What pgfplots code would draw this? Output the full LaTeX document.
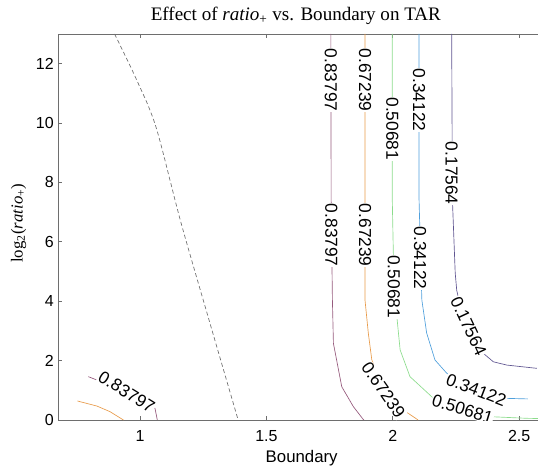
\documentclass[border=0pt]{standalone}
\usepackage{fontspec}
\setmainfont{Liberation Sans}
\newfontfamily\seriffont{Liberation Serif}
\usepackage{pgfplots}
\pgfplotsset{compat=1.18}
\definecolor{cA}{RGB}{150,90,125}
\definecolor{cB}{RGB}{232,155,75}
\definecolor{cC}{RGB}{140,220,140}
\definecolor{cD}{RGB}{80,160,220}
\definecolor{cE}{RGB}{95,85,145}
\definecolor{axgray}{RGB}{110,110,110}
\tikzset{clab/.style={fill=white, inner sep=0.6pt, font=\fontsize{13}{14}\selectfont}}
\begin{document}
\begin{tikzpicture}
\begin{axis}[
  at={(43.5pt,35.25pt)}, anchor=south west,
  scale only axis, width=364.8pt, height=289.5pt,
  xmin=0.675, xmax=2.6, ymin=0, ymax=13,
  xtick={1,1.5,2,2.5}, ytick={0,2,4,6,8,10,12},
  tick align=inside, major tick length=3pt,
  axis line style={axgray, line width=0.6pt},
  tick style={axgray, line width=0.6pt},
  /pgf/number format/assume math mode=true,
  ticklabel style={font=\fontsize{12}{14}\selectfont},
  xticklabel style={anchor=base, yshift=-16.3pt},
  yticklabel style={inner sep=1pt, xshift=-2pt},
  every axis title shift=0pt,
  xlabel={Boundary},
  xlabel style={font=\fontsize{12.6}{14}\selectfont, at={(rel axis cs:0.501,-0.1095)}, anchor=base},
  ylabel={\seriffont log\textsubscript{2}(\textit{ratio}\textsubscript{+})},
  ylabel style={font=\fontsize{12.6}{14}\selectfont, at={(rel axis cs:-0.0811,0.51)}, anchor=center},
  title={\seriffont Effect of \textit{ratio}\textsubscript{+} vs. Boundary on TAR},
  title style={font=\fontsize{14.3}{16}\selectfont, at={(rel axis cs:0.489,1.0345)}, anchor=base},
]
% dashed line
\addplot[axgray, line width=0.5pt, dash pattern=on 3pt off 2pt, smooth, tension=0.5] coordinates {
 (0.899,13) (0.987,11.44) (1.063,9.86) (1.16,6.7) (1.273,3.36) (1.388,0)};
% 0.83797
\addplot[cA, line width=0.5pt] coordinates {
 (1.755,13) (1.756,7.4) (1.761,4.04) (1.765,2.58) (1.798,1.12) (1.844,0.45) (1.882,0.03) (1.886,0)};
\addplot[cA, line width=0.5pt] coordinates {
 (0.795,1.46) (0.947,0.95) (1.02,0.62) (1.059,0.39) (1.068,0)};
% 0.67239
\addplot[cB, line width=0.5pt] coordinates {
 (1.890,13) (1.890,4.04) (1.903,2.93) (1.917,2.02) (1.963,1.01) (2.041,0.34) (2.095,0.03) (2.100,0)};
\addplot[cB, line width=0.5pt] coordinates {
 (0.752,0.64) (0.829,0.47) (0.881,0.28) (0.934,0)};
% 0.50681
\addplot[cC, line width=0.5pt] coordinates {
 (1.998,13) (1.998,7.4) (2.005,4.37) (2.016,3.48) (2.029,2.36) (2.068,1.46) (2.161,0.73) (2.276,0.36) (2.392,0.11) (2.530,0.057) (2.575,0.05)};
% 0.34122
\addplot[cD, line width=0.5pt] coordinates {
 (2.104,13) (2.104,7.4) (2.110,5.5) (2.115,4.04) (2.134,2.93) (2.167,2.02) (2.214,1.57) (2.33,1.02) (2.444,0.73) (2.535,0.71)};
% 0.17564
\addplot[cE, line width=0.5pt] coordinates {
 (2.233,13) (2.236,7.4) (2.247,4.95) (2.253,4.37) (2.260,4.10) (2.300,3.16) (2.359,2.24) (2.398,1.96) (2.451,1.85) (2.570,1.74)};
% labels
\node[clab, rotate=-90] at (1.755,11.45) {0.83797};
\node[clab, rotate=-90] at (1.890,11.45) {0.67239};
\node[clab, rotate=-90] at (1.998,9.81) {0.50681};
\node[clab, rotate=-90] at (2.104,10.77) {0.34122};
\node[clab, rotate=-90] at (2.233,8.31) {0.17564};
\node[clab, rotate=-90] at (1.757,6.22) {0.83797};
\node[clab, rotate=-90] at (1.890,6.22) {0.67239};
\node[clab, rotate=-90] at (2.004,4.49) {0.50681};
\node[clab, rotate=-90] at (2.108,5.45) {0.34122};
\node[clab, rotate=-65] at (2.300,3.16) {0.17564};
\node[clab, rotate=-55] at (1.963,1.01) {0.67239};
\node[clab, rotate=-17] at (2.276,0.37) {0.50681};
\node[clab, rotate=-21] at (2.33,1.02) {0.34122};
\node[clab, rotate=-32] at (0.947,0.95) {0.83797};
\end{axis}
\pgfresetboundingbox
\useasboundingbox (0,0) rectangle (403.5pt,350.25pt);
\end{tikzpicture}
\end{document}
